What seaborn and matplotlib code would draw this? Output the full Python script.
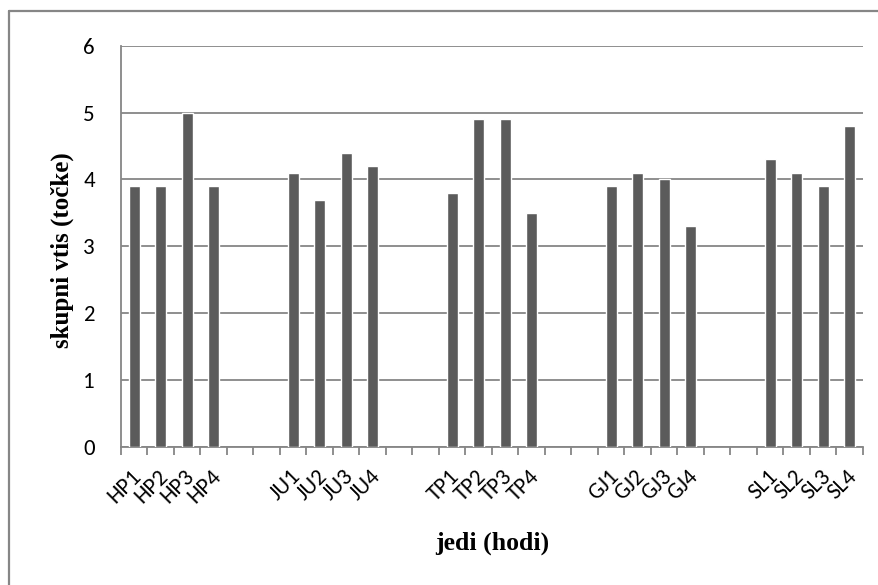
import matplotlib
matplotlib.use("Agg")
import matplotlib.pyplot as plt
import matplotlib.transforms as mtransforms
import seaborn as sns
import pandas as pd
import numpy as np
from matplotlib.lines import Line2D

categories = ["HP1", "HP2", "HP3", "HP4",
              "JU1", "JU2", "JU3", "JU4",
              "TP1", "TP2", "TP3", "TP4",
              "GJ1", "GJ2", "GJ3", "GJ4",
              "SL1", "SL2", "SL3", "SL4"]
values = [3.9, 3.9, 5.0, 3.9,
          4.1, 3.7, 4.4, 4.2,
          3.8, 4.9, 4.9, 3.5,
          3.9, 4.1, 4.0, 3.3,
          4.3, 4.1, 3.9, 4.8]
y_ticks = [0, 1, 2, 3, 4, 5, 6]
x_title = "jedi (hodi)"
y_title = "skupni vtis (točke)"

# order with empty spacer slots between groups
order = []
for g in range(5):
    order += categories[g * 4:(g + 1) * 4]
    if g < 4:
        order += [" " * (2 * g + 1), " " * (2 * g + 2)]

df = pd.DataFrame({"cat": categories, "val": values})

sns.set_style("white")
plt.rcParams["font.family"] = ["Carlito", "Lato", "DejaVu Sans"]
plt.rcParams["text.color"] = "black"
plt.rcParams["xtick.color"] = "black"
plt.rcParams["ytick.color"] = "black"

GRAY = "#868686"

fig = plt.figure(figsize=(8.79, 5.85), dpi=100)
ax = fig.add_axes([121 / 879, 1 - 447 / 585, (863 - 121) / 879, (447 - 45.7) / 585])

sns.barplot(data=df, x="cat", y="val", order=order, color="#5b5b5b",
            width=0.4, saturation=1, ax=ax, zorder=3)

ax.set_xlim(-0.5, len(order) - 0.5)
ax.set_ylim(0, 6)
ax.set_yticks(y_ticks)
ax.set_yticklabels([str(t) for t in y_ticks], fontsize=16.5, color="black")
ax.grid(axis="y", color=GRAY, linewidth=1.3, zorder=0)
ax.tick_params(axis="y", length=5.8, color=GRAY, width=1.3, pad=13)

# x ticks at category boundaries, labels at centers
ax.set_xticks(np.arange(-0.5, len(order), 1.0))
ax.set_xticklabels([])
ax.tick_params(axis="x", which="major", length=6, color=GRAY, width=1.3,
               direction="out", bottom=True)
ax.set_xticks(np.arange(len(order)), minor=True)
ax.set_xticklabels([o if o.strip() else "" for o in order], minor=True,
                   rotation=45, ha="right", va="center", rotation_mode="anchor",
                   fontsize=16.5, color="black")
ax.tick_params(axis="x", which="minor", length=0, pad=19)
offset = mtransforms.ScaledTranslation(4 / 100, 0, fig.dpi_scale_trans)
for lab in ax.get_xticklabels(minor=True):
    lab.set_transform(lab.get_transform() + offset)

for s in ["top", "right"]:
    ax.spines[s].set_visible(False)
for s in ["left", "bottom"]:
    ax.spines[s].set_color(GRAY)
    ax.spines[s].set_linewidth(1.3)

ax.set_xlabel("")
ax.set_ylabel("")
fig.text(492 / 879, 1 - 543 / 585, x_title, ha="center", va="center",
         fontsize=18.5, fontweight="bold", family="Liberation Serif")
fig.text(62 / 879, 1 - 250 / 585, y_title, ha="center", va="center", rotation=90,
         fontsize=18, fontweight="bold", family="Liberation Serif")

# chart-area frame: left and top lines only
fig.add_artist(Line2D([8.5 / 879, 8.5 / 879], [0, 1 - 11 / 585], transform=fig.transFigure,
                      color=GRAY, linewidth=1.6))
fig.add_artist(Line2D([8.5 / 879, 1], [1 - 11 / 585, 1 - 11 / 585], transform=fig.transFigure,
                      color=GRAY, linewidth=1.6))

fig.savefig("out.png", dpi=100)
